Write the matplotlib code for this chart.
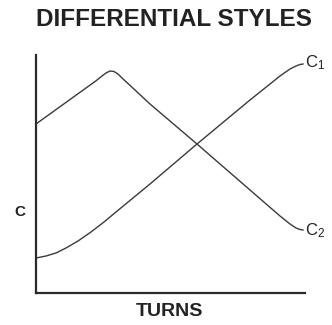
import numpy as np
import matplotlib.pyplot as plt

plt.rcParams['font.family'] = ['Liberation Sans', 'DejaVu Sans']

# curve outlines traced along the turns axis (x) against C (y)
turns_c1 = [0, 10, 20, 30, 42, 55, 68, 80, 114, 161, 214, 244, 254, 260, 264, 267]
c1_vals = [35, 37, 40, 45, 52, 61, 71, 81, 109, 149, 193, 217, 224, 227, 228.5, 229]

turns_c2 = [0, 60, 66, 70, 74, 78, 82, 86, 92, 114, 161, 214, 244, 254, 260, 264, 267]
c2_vals = [169, 212.2, 217, 220, 222, 221.5, 219, 215, 209.5, 189, 149, 103, 77, 69, 65, 63.5, 63]

fig = plt.figure(figsize=(3.32, 3.25), dpi=100)
ax = fig.add_axes([36 / 332, 32 / 325, 269 / 332, 238 / 325])

ax.plot(turns_c1, c1_vals, color='#3a3a3a', lw=1.0)
ax.plot(turns_c2, c2_vals, color='#3a3a3a', lw=1.0)

ax.text(turns_c1[-1] + 2, c1_vals[-1] + 1, r'$\mathregular{C_1}$', fontsize=12,
        va='center', ha='left', color='#222222', clip_on=False)
ax.text(turns_c2[-1] + 2, c2_vals[-1] - 1, r'$\mathregular{C_2}$', fontsize=12,
        va='center', ha='left', color='#222222', clip_on=False)

ax.set_xlim(0, 269)
ax.set_ylim(0, 238)
for side in ['top', 'right']:
    ax.spines[side].set_visible(False)
for side in ['left', 'bottom']:
    ax.spines[side].set_linewidth(1.6)
    ax.spines[side].set_color('#2a2a2a')
ax.set_xticks([])
ax.set_yticks([])

fig.text(174 / 332, 1 - 19 / 325, 'DIFFERENTIAL STYLES', fontsize=17.5, fontweight='bold',
         ha='center', va='center', color='#222222')
fig.text(20 / 332, 1 - 212 / 325, 'C', fontsize=11, fontweight='bold',
         ha='center', va='center', color='#222222')
fig.text(169 / 332, 1 - 311 / 325, 'TURNS', fontsize=14, fontweight='bold',
         ha='center', va='center', color='#222222')

fig.savefig('out.png', dpi=100, facecolor='white')
